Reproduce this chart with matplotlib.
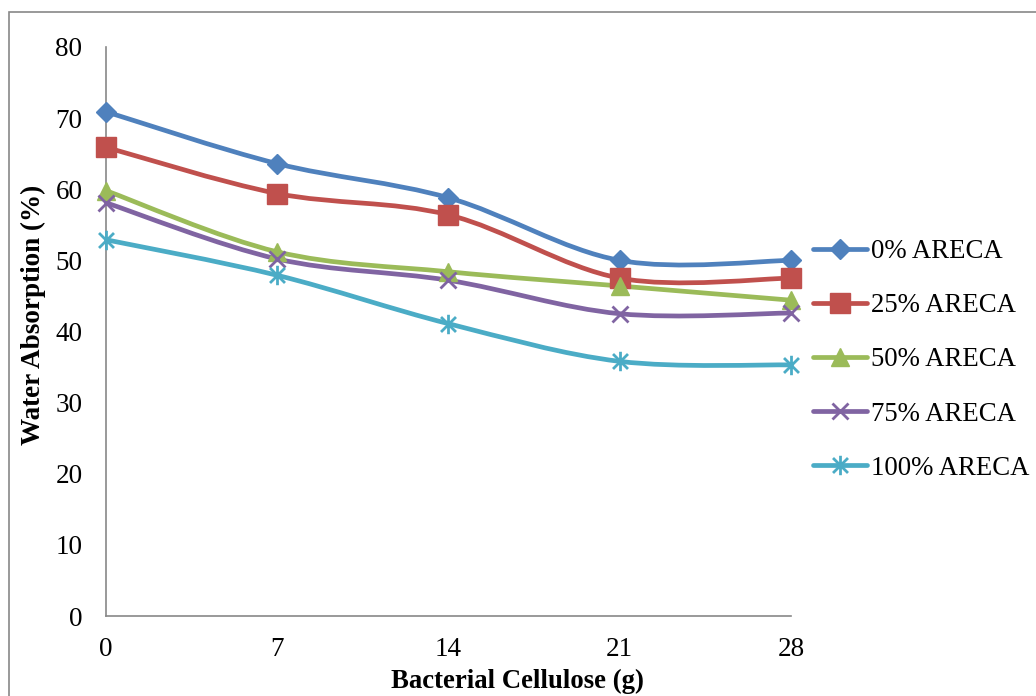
import numpy as np
import matplotlib
matplotlib.use("Agg")
import matplotlib.pyplot as plt
from matplotlib.path import Path
from matplotlib.patches import PathPatch, Rectangle
from matplotlib.lines import Line2D

# data
cellulose = [0, 7, 14, 21, 28]
series_names = ["0% ARECA", "25% ARECA", "50% ARECA", "75% ARECA", "100% ARECA"]
areca_0 = [70.9, 63.6, 58.8, 50.0, 50.0]
areca_25 = [65.9, 59.4, 56.4, 47.5, 47.5]
areca_50 = [59.8, 51.2, 48.4, 46.4, 44.4]
areca_75 = [58.1, 50.2, 47.2, 42.5, 42.6]
areca_100 = [52.9, 47.9, 41.1, 35.8, 35.3]
all_series = [areca_0, areca_25, areca_50, areca_75, areca_100]

colors = ["#4F81BD", "#C0504D", "#9BBB59", "#8064A2", "#4BACC6"]

# excel-like star: an x with a vertical bar
star = Path([(-1, -1), (1, 1), (-1, 1), (1, -1), (0, -1.3), (0, 1.3)],
            [Path.MOVETO, Path.LINETO] * 3)
markers = ["D", "s", "^", "x", star]
msizes = [10.5, 14, 13, 12, 14]

plt.rcParams["font.family"] = ["Liberation Serif", "DejaVu Serif"]


def smooth_path(xs, ys):
    # Excel style smoothed line as cubic bezier segments
    pts = np.column_stack([xs, ys]).astype(float)
    n = len(pts)
    verts = [pts[0]]
    codes = [Path.MOVETO]
    for i in range(n - 1):
        p0 = pts[max(i - 1, 0)]
        p1 = pts[i]
        p2 = pts[i + 1]
        p3 = pts[min(i + 2, n - 1)]
        c1 = p1 + (p2 - p0) / 6.0
        c2 = p2 - (p3 - p1) / 6.0
        verts += [c1, c2, p2]
        codes += [Path.CURVE4] * 3
    return Path(verts, codes)


fig = plt.figure(figsize=(10.36, 6.96), dpi=100)
ax = fig.add_axes([106 / 1036, 1 - 616 / 696, (791 - 106) / 1036, (616 - 47) / 696])

handles = []
for ys, c, m, ms, name in zip(all_series, colors, markers, msizes, series_names):
    ax.add_patch(PathPatch(smooth_path(cellulose, ys), facecolor="none",
                           edgecolor=c, lw=3.4, capstyle="round", zorder=3))
    mew = 1 if m in ("D", "s", "^") else 2
    ax.plot(cellulose, ys, linestyle="none", marker=m, markersize=ms,
            color=c, markeredgecolor=c, markeredgewidth=mew, zorder=4, clip_on=False)
    handles.append(Line2D([], [], color=c, lw=3.4, marker=m, markersize=ms,
                          markeredgecolor=c, markeredgewidth=mew,
                          solid_capstyle="round"))

ax.set_xlim(0, 28)
ax.set_ylim(0, 80)
ax.set_xticks(cellulose)
ax.set_yticks(range(0, 81, 10))
ax.tick_params(length=0, labelsize=19.5, colors="black")
ax.tick_params(axis="y", pad=17)
ax.tick_params(axis="x", pad=15)
for s in ["top", "right"]:
    ax.spines[s].set_visible(False)
for s in ["left", "bottom"]:
    ax.spines[s].set_color("#888888")
    ax.spines[s].set_linewidth(1.2)

fig.text(517 / 1036, 1 - 681 / 696, "Bacterial Cellulose (g)", ha="center",
         va="center", fontsize=19.3, fontweight="bold")
fig.text(33 / 1036, 1 - 315 / 696, "Water Absorption (%)", ha="center",
         va="center", rotation=90, fontsize=19.5, fontweight="bold")

fig.legend(handles, series_names, loc="upper left",
           bbox_to_anchor=(813 / 1036, 1 - 239 / 696), frameon=False,
           fontsize=19.3, handlelength=2.0, handletextpad=0.15,
           labelspacing=1.09, borderpad=0, borderaxespad=0)

# chart border
fig.patches.append(Rectangle((9 / 1036, -0.05), 1.2, 1 - 12 / 696 + 0.05,
                             transform=fig.transFigure, fill=False,
                             edgecolor="#888888", lw=1.2))

fig.savefig("out.png", dpi=100)
